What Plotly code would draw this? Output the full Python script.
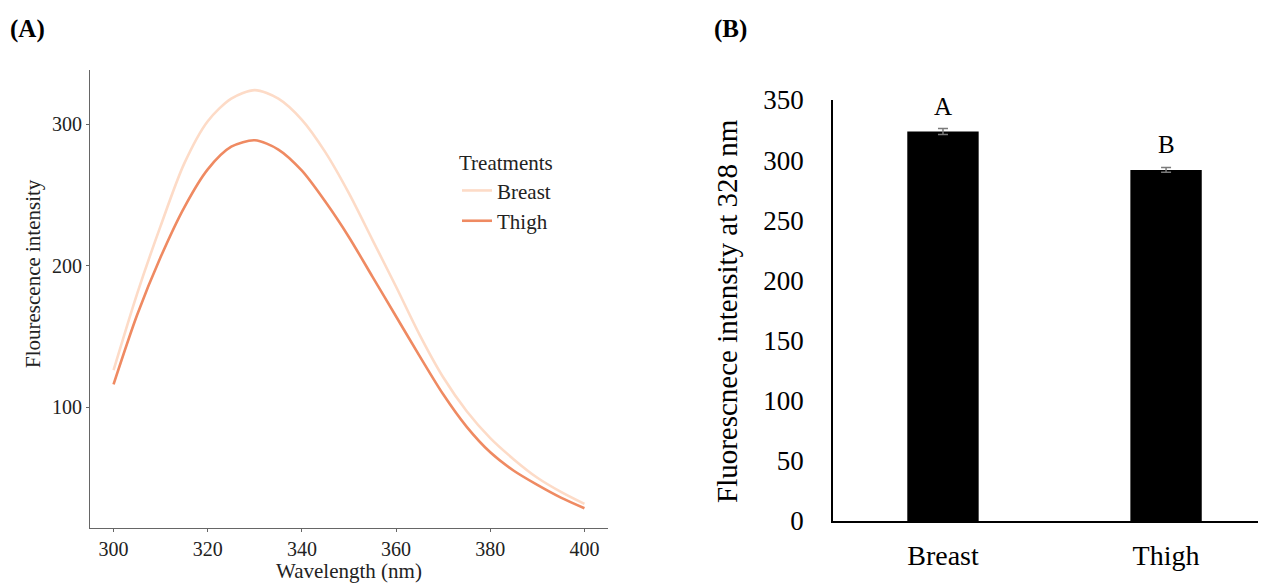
import plotly.graph_objects as go

# ---- Panel A data: fluorescence emission spectra ----
wavelength = [300, 305, 310, 315, 320, 325, 330, 335, 340, 345, 350,
              355, 360, 365, 370, 375, 380, 385, 390, 395, 400]
breast = [126, 180, 228, 272, 302, 318, 324, 318, 303, 280, 251,
          218, 185, 151, 121, 97, 78, 63, 50, 40, 31.5]
thigh = [116, 165, 206, 241, 268, 284, 288.5, 282, 267, 245, 220,
         192, 164, 136, 109, 86, 68, 55, 45, 36, 28.5]
x_ticks_a = [300, 320, 340, 360, 380, 400]
y_ticks_a = [100, 200, 300]

# ---- Panel B data: intensity at 328 nm ----
categories = ["Breast", "Thigh"]
means = [323.9, 291.9]
errors = [2.5, 2.0]
letters = ["A", "B"]
y_ticks_b = [0, 50, 100, 150, 200, 250, 300, 350]

FONT = "Liberation Serif"
OFF = 8                      # page body margin
W, H = 1266 - OFF, 583 - OFF


def px(x):
    return (x - OFF) / W


def py(y):
    return 1 - (y - OFF) / H


fig = go.Figure()
fig.add_trace(go.Scatter(x=wavelength, y=breast, mode="lines", name="Breast",
                         line=dict(color="#fddbc7", width=2.6, shape="spline",
                                   smoothing=0.8),
                         xaxis="x", yaxis="y"))
fig.add_trace(go.Scatter(x=wavelength, y=thigh, mode="lines", name="Thigh",
                         line=dict(color="#ef8a62", width=2.6, shape="spline",
                                   smoothing=0.8),
                         xaxis="x", yaxis="y"))
fig.add_trace(go.Bar(x=categories, y=means, width=0.32, showlegend=False,
                     marker=dict(color="black", line=dict(width=0)),
                     error_y=dict(type="data", array=errors, color="#7a7a7a",
                                  thickness=1.5, width=5),
                     xaxis="x2", yaxis="y2"))

annotations = [
    dict(text="<b>(A)</b>", x=px(27.5), y=py(29), xref="paper", yref="paper",
         xanchor="center", yanchor="middle", showarrow=False,
         font=dict(family=FONT, size=25, color="black")),
    dict(text="<b>(B)</b>", x=px(730), y=py(29), xref="paper", yref="paper",
         xanchor="center", yanchor="middle", showarrow=False,
         font=dict(family=FONT, size=25, color="black")),
    dict(text="Flourescence intensity", x=px(33), y=py(274), xref="paper",
         yref="paper", xanchor="center", yanchor="middle", textangle=-90,
         showarrow=False, font=dict(family=FONT, size=21, color="#222")),
    dict(text="Fluorescnece intensity at 328 nm", x=px(727), y=py(311),
         xref="paper", yref="paper", xanchor="center", yanchor="middle",
         textangle=-90, showarrow=False,
         font=dict(family=FONT, size=29, color="black")),
]
for c, m, e, l in zip(categories, means, errors, letters):
    annotations.append(dict(text=l, x=c, y=m, xref="x2", yref="y2", yshift=25,
                            xanchor="center", yanchor="middle", showarrow=False,
                            font=dict(family=FONT, size=25, color="black")))

fig.update_layout(
    width=W, height=H,
    margin=dict(l=0, r=0, t=0, b=0),
    paper_bgcolor="white", plot_bgcolor="white",
    font=dict(family=FONT, color="black"),
    xaxis=dict(domain=[px(90), px(608)], range=[295, 405], tickvals=x_ticks_a,
               ticks="outside", ticklen=3, tickcolor="#666", showline=True,
               linecolor="#666", linewidth=1, showgrid=False, zeroline=False,
               tickfont=dict(family=FONT, size=20, color="#222"), anchor="y",
               title=dict(text="Wavelength (nm)", standoff=8,
                          font=dict(family=FONT, size=21, color="#222")),
               automargin=False),
    yaxis=dict(domain=[py(528), py(70)], range=[14.5, 338.2], tickvals=y_ticks_a,
               ticks="outside", ticklen=3, tickcolor="#666", showline=True,
               linecolor="#666", linewidth=1, showgrid=False, zeroline=False,
               tickfont=dict(family=FONT, size=20, color="#222"), anchor="x",
               automargin=False),
    xaxis2=dict(domain=[px(833), 1.0], type="category", range=[-0.493, 1.448],
                showline=True, linecolor="black", linewidth=1.5, ticks="",
                showgrid=False, zeroline=False, anchor="y2",
                ticklabelstandoff=9,
                tickfont=dict(family=FONT, size=28, color="black"),
                automargin=False),
    yaxis2=dict(domain=[py(521), py(100)], range=[0, 350], tickvals=y_ticks_b,
                showline=True, linecolor="black", linewidth=1.5, ticks="",
                showgrid=False, zeroline=False, anchor="x2",
                ticklabelstandoff=22,
                tickfont=dict(family=FONT, size=27, color="black"),
                automargin=False),
    legend=dict(x=(449) / W, y=1 - 135 / H, xanchor="left", yanchor="top",
                bgcolor="rgba(0,0,0,0)", itemwidth=30, tracegroupgap=0,
                font=dict(family=FONT, size=21, color="#222"),
                title=dict(text="Treatments", side="top",
                           font=dict(family=FONT, size=21, color="#222"))),
    annotations=annotations,
)

fig.write_html("out.html")
